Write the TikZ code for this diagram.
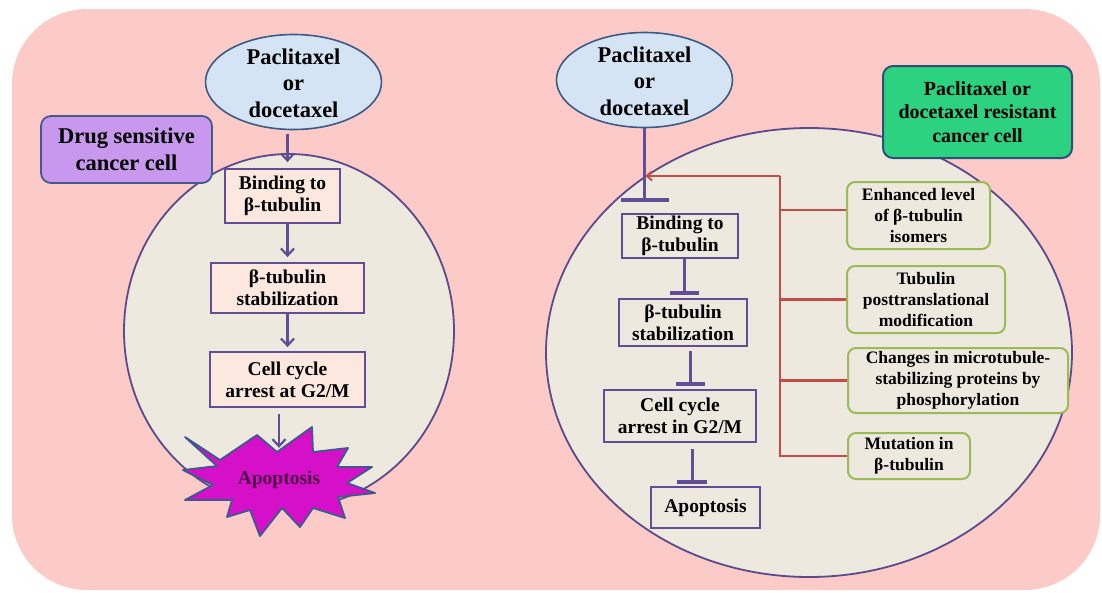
\documentclass[tikz,border=0pt]{standalone}
\usepackage{fontspec}
\setmainfont{Liberation Serif}
\usetikzlibrary{shapes.geometric,arrows.meta}
\definecolor{bgpink}{RGB}{252,203,199}
\definecolor{cellfill}{RGB}{237,233,223}
\definecolor{cellline}{RGB}{92,74,140}
\definecolor{peach}{RGB}{252,232,222}
\definecolor{boxline}{RGB}{98,78,148}
\definecolor{drugfill}{RGB}{212,228,244}
\definecolor{drugline}{RGB}{60,90,135}
\definecolor{lav}{RGB}{200,152,238}
\definecolor{lavline}{RGB}{70,90,140}
\definecolor{grn}{RGB}{44,210,128}
\definecolor{grnline}{RGB}{45,80,120}
\definecolor{olive}{RGB}{155,187,89}
\definecolor{redl}{RGB}{195,75,72}
\definecolor{mag}{RGB}{214,16,200}
\definecolor{magline}{RGB}{60,90,140}
\definecolor{apotext}{RGB}{80,0,75}
\begin{document}
\begin{tikzpicture}[x=1pt,y=-1pt,
  bigtxt/.style={align=center,inner sep=0pt,font=\fontsize{22.5}{26.5}\selectfont\bfseries},
  boxtxt/.style={align=center,inner sep=0pt,font=\fontsize{19.5}{22}\selectfont\bfseries},
  drug/.style={ellipse,draw=drugline,line width=1.6pt,fill=drugfill,inner sep=0pt,minimum width=176pt,minimum height=95pt},
  cell/.style={ellipse,draw=cellline,line width=1.8pt,fill=cellfill,inner sep=0pt},
  lbox/.style={boxtxt,draw=boxline,fill=peach,line width=1.8pt},
  rbox/.style={boxtxt,draw=boxline,fill=cellfill,line width=2pt},
  lavbox/.style={bigtxt,draw=lavline,fill=lav,line width=1.8pt,rounded corners=10pt,minimum width=171pt,minimum height=67pt},
  grnbox/.style={align=center,inner sep=0pt,font=\fontsize{20}{23.5}\selectfont\bfseries,draw=grnline,fill=grn,line width=2pt,rounded corners=10pt,minimum width=189pt,minimum height=92pt},
  obox/.style={align=center,inner sep=0pt,font=\fontsize{17.5}{21}\selectfont\bfseries,draw=olive,fill=cellfill,line width=2pt,rounded corners=8pt},
  arr/.style={draw=boxline,line width=2.2pt,-{Straight Barb[length=7pt,width=13pt,line width=2.2pt]}},
  inh/.style={draw=boxline,line width=3pt,-{Bar[width=#1,line width=4pt]}},
  redline/.style={draw=redl,line width=2.2pt},
]
\useasboundingbox (0,0) rectangle (1102,592);
\fill[white] (0,0) rectangle (1102,592);
\fill[bgpink,rounded corners=75pt] (12,9) rectangle (1100,590);

% ---------- left: drug sensitive cell ----------
\node[cell,minimum width=330pt,minimum height=354pt] (lcell) at (289,331) {};
\node[lavbox] (dsc) at (126.5,149.5) {Drug sensitive\\cancer cell};
\node[drug] (lE) at (293.5,82) {};
\node[bigtxt] (lEt) at (293.5,83) {Paclitaxel\\or\\docetaxel};
\node[lbox,minimum width=115pt,minimum height=54pt] (lB1) at (282.5,196) {Binding to\\β-tubulin};
\node[lbox,minimum width=153pt,minimum height=50pt] (lB2) at (287.5,288) {β-tubulin\\stabilization};
\node[lbox,minimum width=155pt,minimum height=55pt] (lB3) at (287.5,379.5) {Cell cycle\\arrest at G2/M};

\draw[draw=magline,fill=mag,line width=1.8pt,line join=round] plot coordinates {
 (185,437) (220,460) (257,435) (277,452) (312,427) (313,452) (348,448) (337,467)
 (372,467) (347,483) (375,493) (338,497) (345,518) (313,508) (300,527) (282,508)
 (260,536) (250,510) (227,517) (232,500) (185,500) (213,485) (183,470) (217,466)} -- cycle;
\node[boxtxt,text=apotext,minimum height=56pt,minimum width=90pt] (apo) at (279,480) {Apoptosis};

\draw[arr,shorten <=4pt,shorten >=6pt] (lB2.north |- lE.south) -- (lB2.north |- lB1.north);
\draw[arr,shorten >=5pt] (lB2.north |- lB1.south) -- (lB2.north);
\draw[arr,shorten >=4pt] (lB3.north |- lB2.south) -- (lB3.north);
\draw[arr,shorten <=6pt,shorten >=4pt] (apo.north |- lB3.south) -- (apo.north);

% ---------- right: resistant cell ----------
\node[cell,minimum width=526pt,minimum height=449pt] (rcell) at (809,352.5) {};
\node[grnbox] (res) at (977.5,112) {Paclitaxel or\\docetaxel resistant\\cancer cell};
\node[drug] (rE) at (644.5,80) {};
\node[bigtxt] (rEt) at (644.5,81) {Paclitaxel\\or\\docetaxel};

\node[rbox,minimum width=116pt,minimum height=44pt] (rB1) at (680,236) {Binding to\\β-tubulin};
\node[rbox,minimum width=128pt,minimum height=47pt] (rB2) at (683,322.5) {β-tubulin\\stabilization};
\node[rbox,minimum width=152pt,minimum height=52pt] (rB3) at (680,416) {Cell cycle\\arrest in G2/M};
\node[rbox,minimum width=109pt,minimum height=41pt] (rB4) at (705.5,507.5) {Apoptosis};

\node[obox,minimum width=143pt,minimum height=67pt] (e1) at (918.5,215.5) {Enhanced level\\of β-tubulin\\isomers};
\node[obox,minimum width=158pt,minimum height=67pt] (e2) at (926,299.5) {Tubulin\\posttranslational\\modification};
\node[obox,minimum width=220pt,minimum height=65pt] (e3) at (958,380.5) {Changes in microtubule-\\stabilizing proteins by\\phosphorylation};
\node[obox,minimum width=122pt,minimum height=46pt] (e4) at (909,456) {Mutation in\\β-tubulin};

% inhibition chain
\draw[inh=48pt,shorten >=11pt] (rE.south) -- (rE.south |- rB1.north);
\draw[inh=29pt,shorten >=3pt] ([xshift=1pt]rB2.north |- rB1.south) -- ([xshift=1pt]rB2.north);
\draw[inh=29pt,shorten <=4pt,shorten >=3pt] ([xshift=10pt]rB3.north |- rB2.south) -- ([xshift=10pt]rB3.north);
\draw[inh=30pt,shorten <=6pt,shorten >=2pt] ([xshift=-13.5pt]rB4.north |- rB3.south) -- ([xshift=-13.5pt]rB4.north);

% resistance mechanisms (red)
\coordinate (rt) at (780,176);
\coordinate (rb) at (780,457);
\draw[redline] (rt) -- (rb);
\draw[redline,-{Straight Barb[length=5pt,width=9pt,line width=2pt]},shorten >=-1pt] (rt) -- ([xshift=2pt]rE.south |- rt);
\draw[redline] ([yshift=5.5pt]e1.west -| rt) -- ([yshift=5.5pt]e1.west);
\draw[redline] (e2.west -| rt) -- (e2.west);
\draw[redline] (e3.west -| rt) -- (e3.west);
\draw[redline] (e4.west -| rt) -- (e4.west);
\end{tikzpicture}
\end{document}
